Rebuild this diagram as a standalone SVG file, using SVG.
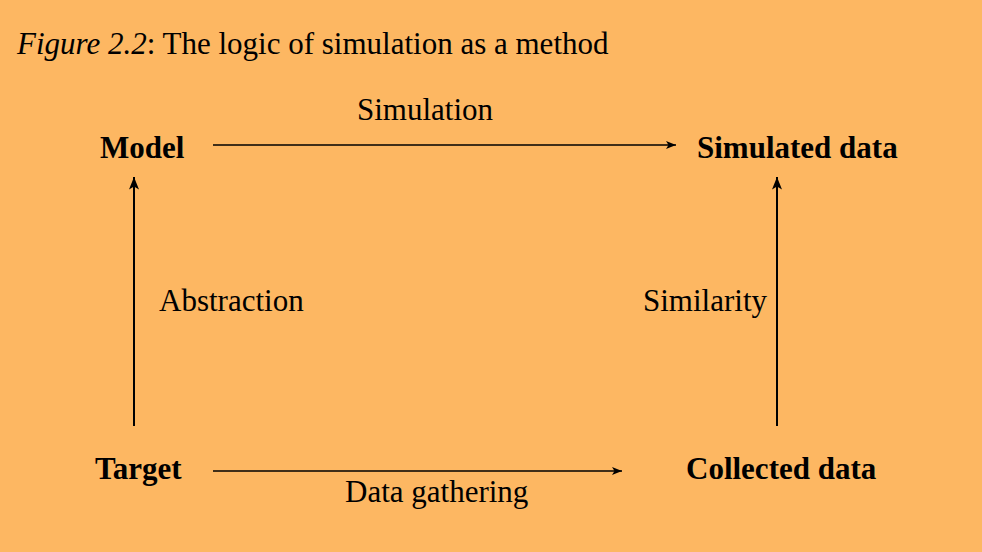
<svg xmlns="http://www.w3.org/2000/svg" width="982" height="552" viewBox="0 0 982 552">
<style>
text{font-family:"Liberation Serif","Times New Roman",serif;fill:#000;font-size:31px}
.node{font-weight:bold}
.conn line{stroke:#000;fill:none}
</style>
<defs>
<marker id="ah" viewBox="0 0 10 8" refX="10" refY="4" markerWidth="11" markerHeight="8" markerUnits="userSpaceOnUse" orient="auto">
<path d="M0,0 L10,4 L0,8 L2.5,4 Z" fill="#000"/>
</marker>
<marker id="ahv" viewBox="0 0 10 8" refX="10" refY="4" markerWidth="13" markerHeight="10" markerUnits="userSpaceOnUse" orient="auto">
<path d="M0,0 L10,4 L0,8 L2.5,4 Z" fill="#000"/>
</marker>
</defs>
<rect width="982" height="552" fill="#FDB762"/>
<text x="17" y="54"><tspan font-style="italic">Figure 2.2</tspan>: The logic of simulation as a method</text>
<g id="model"><text class="node" x="100" y="158">Model</text></g>
<g id="simulated"><text class="node" x="697" y="158">Simulated data</text></g>
<g id="target"><text class="node" x="95" y="479">Target</text></g>
<g id="collected"><text class="node" x="686" y="479">Collected data</text></g>
<g class="conn" id="connectors">
<line x1="213" y1="145" x2="676" y2="145" stroke-width="1.3" marker-end="url(#ah)"/>
<line x1="213" y1="471" x2="622" y2="471" stroke-width="1.3" marker-end="url(#ah)"/>
<line x1="134" y1="426" x2="134" y2="177" stroke-width="2" marker-end="url(#ahv)"/>
<line x1="777" y1="426" x2="777" y2="177" stroke-width="2" marker-end="url(#ahv)"/>
<text x="357" y="120">Simulation</text>
<text x="159" y="311">Abstraction</text>
<text x="643" y="311">Similarity</text>
<text x="345" y="502">Data gathering</text>
</g>
</svg>
